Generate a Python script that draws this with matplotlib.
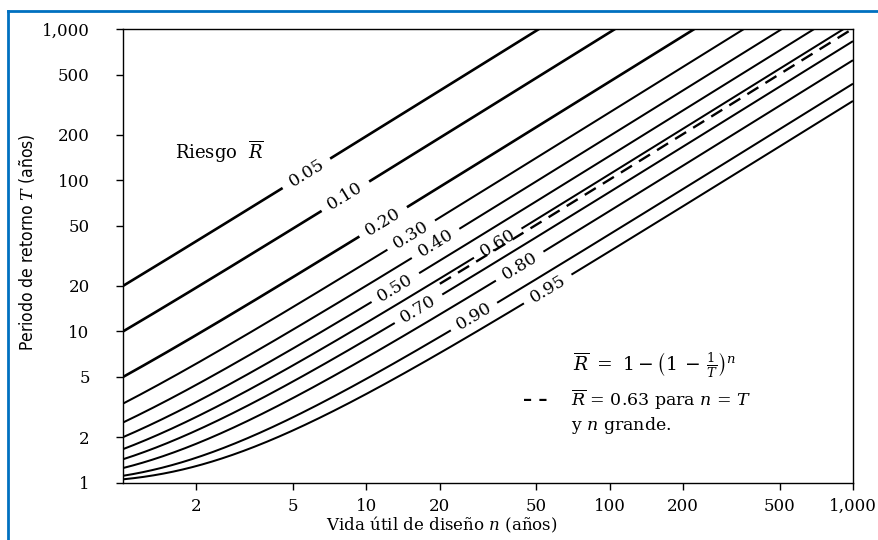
import numpy as np
import matplotlib
matplotlib.use("Agg")
import matplotlib.pyplot as plt
from matplotlib.lines import Line2D

plt.rcParams["font.family"] = ["DejaVu Serif"]
plt.rcParams["mathtext.fontset"] = "dejavuserif"

# Riesgo R para cada curva y donde va su etiqueta (vida util n)
riesgos = [0.05, 0.10, 0.20, 0.30, 0.40, 0.50, 0.60, 0.70, 0.80, 0.90, 0.95]
etiquetas = ["0.05", "0.10", "0.20", "0.30", "0.40", "0.50",
             "0.60", "0.70", "0.80", "0.90", "0.95"]
n_etiqueta = [5.7, 8.2, 11.7, 15.3, 19.3, 13.1, 34.8, 16.3, 42.8, 27.7, 55.8]
riesgo_n_igual_T = 0.63
n_inicio_trazos = 20

xticks = [2, 5, 10, 20, 50, 100, 200, 500, 1000]
yticks = [1, 2, 5, 10, 20, 50, 100, 200, 500, 1000]


def periodo(R, n):
    # R = 1 - (1 - 1/T)^n  ->  T
    return 1.0 / (1.0 - (1.0 - R) ** (1.0 / n))


fig = plt.figure(figsize=(8.79, 5.40), dpi=100)
ax = fig.add_axes([0.1399, 0.1061, 0.8305, 0.8402])
ax.set_xscale("log")
ax.set_yscale("log")
ax.set_xlim(1, 1000)
ax.set_ylim(1, 1000)

n = np.logspace(0, 3, 600)
for i, R in enumerate(riesgos):
    T = periodo(R, n)
    # hueco para la etiqueta
    T_plot = T.copy()
    T_plot[np.abs(np.log10(n) - np.log10(n_etiqueta[i])) < 0.095] = np.nan
    lw = 1.9 if R <= 0.20 else 1.45
    ax.plot(n, T_plot, color="black", lw=lw, solid_capstyle="butt")

    # angulo de la etiqueta segun la pendiente en pantalla
    n0 = n_etiqueta[i]
    p1 = ax.transData.transform((n0 / 1.05, periodo(R, n0 / 1.05)))
    p2 = ax.transData.transform((n0 * 1.05, periodo(R, n0 * 1.05)))
    ang = np.degrees(np.arctan2(p2[1] - p1[1], p2[0] - p1[0]))
    ax.text(n0, periodo(R, n0), etiquetas[i], rotation=ang,
            rotation_mode="anchor", ha="center", va="center",
            fontsize=12.5, color="black")

# linea discontinua R = 0.63
n_d = n[n >= n_inicio_trazos]
ax.plot(n_d, periodo(riesgo_n_igual_T, n_d), color="black", lw=1.7,
        linestyle=(0, (5.5, 3.5)))

ax.set_xticks(xticks)
ax.set_xticklabels(["{:,}".format(v) for v in xticks])
ax.set_yticks(yticks)
ax.set_yticklabels(["{:,}".format(v) for v in yticks])
ax.minorticks_off()
ax.tick_params(axis="both", direction="out", length=5, width=1,
               labelsize=12, colors="black")
ax.tick_params(axis="y", pad=19)
ax.tick_params(axis="x", pad=6)
for s in ax.spines.values():
    s.set_linewidth(1.0)

ax.set_xlabel("Vida útil de diseño $n$ (años)", fontsize=12)
ax.xaxis.set_label_coords(0.436, -0.071)
ax.set_ylabel("Periodo de retorno $T$ (años)", fontsize=12.5,
              family="DejaVu Sans", fontstretch="condensed")
ax.yaxis.set_label_coords(-0.118, 0.53)

ax.text(0.071, 0.729, r"Riesgo  $\overline{R}$", transform=ax.transAxes,
        fontsize=13, ha="left", va="center")
ax.text(0.616, 0.259, r"$\overline{R}\ =\ 1-\left(1\,-\,\frac{1}{T}\right)^{n}$",
        transform=ax.transAxes, fontsize=13.5, ha="left", va="center")
ax.text(0.548, 0.182, "– –", transform=ax.transAxes, fontsize=13,
        fontweight="bold", ha="left", va="center")
ax.text(0.614, 0.182, r"$\overline{R}$ = 0.63 para $n$ = $T$",
        transform=ax.transAxes, fontsize=12.5, ha="left", va="center")
ax.text(0.614, 0.127, r"y $n$ grande.", transform=ax.transAxes,
        fontsize=12.5, ha="left", va="center")

# marco azul de la captura
azul = "#0070C0"
fig.add_artist(Line2D([8 / 879, 1], [1 - 11 / 540, 1 - 11 / 540],
                      color=azul, lw=2, transform=fig.transFigure))
fig.add_artist(Line2D([8 / 879, 8 / 879], [0, 1 - 11 / 540],
                      color=azul, lw=2, transform=fig.transFigure))

fig.savefig("out.png", dpi=100)
